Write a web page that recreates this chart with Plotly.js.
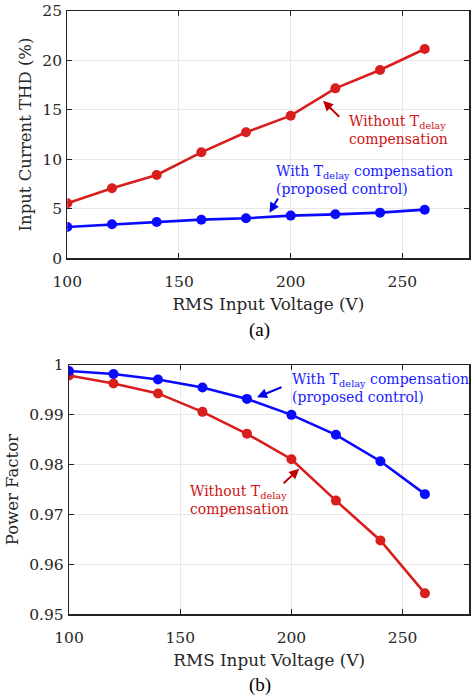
<!DOCTYPE html>
<html><head><meta charset="utf-8">
<script src="https://cdn.plot.ly/plotly-3.0.1.min.js"></script>
<style>body{margin:0;padding:0;background:#fff}#chart{width:474px;height:700px}</style>
</head><body><div id="chart"></div>
<script>
var voltage = [100, 120, 140, 160, 180, 200, 220, 240, 260];
var thdWithout = [5.55, 7.07, 8.41, 10.7, 12.72, 14.4, 17.16, 19.01, 21.13];
var thdWith = [3.16, 3.43, 3.67, 3.9, 4.04, 4.31, 4.44, 4.61, 4.91];
var pfWith = [0.9988, 0.9982, 0.9971, 0.9955, 0.9932, 0.9900, 0.9860, 0.9807, 0.9741];
var pfWithout = [0.9979, 0.9963, 0.9943, 0.9906, 0.9862, 0.9811, 0.9728, 0.9648, 0.9542];
var thdTicks = [0, 5, 10, 15, 20, 25];
var pfTicks = [0.95, 0.96, 0.97, 0.98, 0.99, 1];
var pfTickText = ['0.95', '0.96', '0.97', '0.98', '0.99', '1'];
var xTicks = [100, 150, 200, 250];

var RED = '#d91e1e', BLUE = '#0a0aff', TXTRED = '#cc1414', TXTBLUE = '#1a1aff';
var FONT = "'DejaVu Serif', serif";

function tr(y, color, xa, ya) {
  return {x: voltage, y: y, xaxis: xa, yaxis: ya, type: 'scatter', mode: 'lines+markers',
    line: {color: color, width: 2.6}, marker: {color: color, size: 10}, showlegend: false, hoverinfo: 'skip'};
}
var data = [
  tr(thdWithout, RED, 'x', 'y'), tr(thdWith, BLUE, 'x', 'y'),
  tr(pfWithout, RED, 'x2', 'y2'), tr(pfWith, BLUE, 'x2', 'y2')
];

function xax(dom, anchor) {
  return {domain: dom, anchor: anchor, range: [100, 280], tickvals: xTicks, ticks: 'inside', ticklen: 5,
    tickcolor: '#222', showline: true, linecolor: '#222', linewidth: 1.2, mirror: 'ticks',
    showgrid: true, gridcolor: '#e8e8e8', zeroline: false, ticklabelstandoff: 9,
    tickfont: {family: FONT, size: 15.5, color: '#262626'},
    title: {text: 'RMS Input Voltage (V)', font: {family: FONT, size: 16.8, color: '#262626'}, standoff: 8}};
}
function yax(dom, anchor, range, tv, tt, title) {
  var o = {domain: dom, anchor: anchor, range: range, tickvals: tv, ticks: 'inside', ticklen: 5,
    tickcolor: '#222', showline: true, linecolor: '#222', linewidth: 1.2, mirror: 'ticks',
    showgrid: true, gridcolor: '#e8e8e8', zeroline: false, ticklabelstandoff: 1,
    tickfont: {family: FONT, size: 15.5, color: '#262626'},
    title: {text: title, font: {family: FONT, size: 16.5, color: '#262626'}, standoff: 6}};
  if (tt) o.ticktext = tt;
  return o;
}

var annFont = function (c) { return {family: FONT, size: 14, color: c}; };
var annotations = [
  // top plot arrows
  {xref: 'x', yref: 'y', x: 214.5, y: 15.9, axref: 'x', ayref: 'y', ax: 222.4, ay: 14.15,
    showarrow: true, arrowhead: 2, arrowsize: 1, arrowwidth: 2, arrowcolor: '#c00000', text: ''},
  {xref: 'x', yref: 'y', x: 190.5, y: 4.6, axref: 'x', ayref: 'y', ax: 194.7, ay: 6.2,
    showarrow: true, arrowhead: 2, arrowsize: 1, arrowwidth: 2, arrowcolor: '#0000e0', text: ''},
  {xref: 'x', yref: 'y', x: 225.0, y: 13.0, xanchor: 'left', yanchor: 'middle', align: 'left', showarrow: false,
    text: 'Without T<sub>delay</sub><br>compensation', font: annFont(TXTRED)},
  {xref: 'x', yref: 'y', x: 192.5, y: 7.95, xanchor: 'left', yanchor: 'middle', align: 'left', showarrow: false,
    text: 'With T<sub>delay</sub> compensation<br>(proposed control)', font: annFont(TXTBLUE)},
  // bottom plot arrows
  {xref: 'x2', yref: 'y2', x: 184.5, y: 0.99353, axref: 'x2', ayref: 'y2', ax: 196.2, ay: 0.99566,
    showarrow: true, arrowhead: 2, arrowsize: 1, arrowwidth: 2, arrowcolor: '#0000e0', text: ''},
  {xref: 'x2', yref: 'y2', x: 203.5, y: 0.97917, axref: 'x2', ayref: 'y2', ax: 195.8, ay: 0.97602,
    showarrow: true, arrowhead: 2, arrowsize: 1, arrowwidth: 2, arrowcolor: '#c00000', text: ''},
  {xref: 'x2', yref: 'y2', x: 199.3, y: 0.9953, xanchor: 'left', yanchor: 'middle', align: 'left', showarrow: false,
    text: 'With T<sub>delay</sub> compensation<br>(proposed control)', font: annFont(TXTBLUE)},
  {xref: 'x2', yref: 'y2', x: 153.3, y: 0.9729, xanchor: 'left', yanchor: 'middle', align: 'left', showarrow: false,
    text: 'Without T<sub>delay</sub><br>compensation', font: annFont(TXTRED)},
  // panel labels
  {xref: 'paper', yref: 'paper', x: 0.548, y: 1 - 330 / 700, xanchor: 'center', yanchor: 'middle', showarrow: false,
    text: '(a)', font: {family: "'Liberation Serif', serif", size: 19, color: '#000'}},
  {xref: 'paper', yref: 'paper', x: 0.548, y: 1 - 685 / 700, xanchor: 'center', yanchor: 'middle', showarrow: false,
    text: '(b)', font: {family: "'Liberation Serif', serif", size: 19, color: '#000'}}
];

var layout = {
  width: 474, height: 700, margin: {l: 0, r: 0, t: 0, b: 0},
  paper_bgcolor: '#fff', plot_bgcolor: '#fff',
  xaxis: xax([67.3 / 474, 469.4 / 474], 'y'),
  yaxis: yax([1 - 258.3 / 700, 1 - 10.7 / 700], 'x', [0, 25], thdTicks, null, 'Input Current THD (%)'),
  xaxis2: xax([69 / 474, 469.4 / 474], 'y2'),
  yaxis2: yax([1 - 614.3 / 700, 1 - 365 / 700], 'x2', [0.95, 1], pfTicks, pfTickText, 'Power Factor'),
  annotations: annotations
};
Plotly.newPlot('chart', data, layout, {displayModeBar: false, staticPlot: true});
</script></body></html>
